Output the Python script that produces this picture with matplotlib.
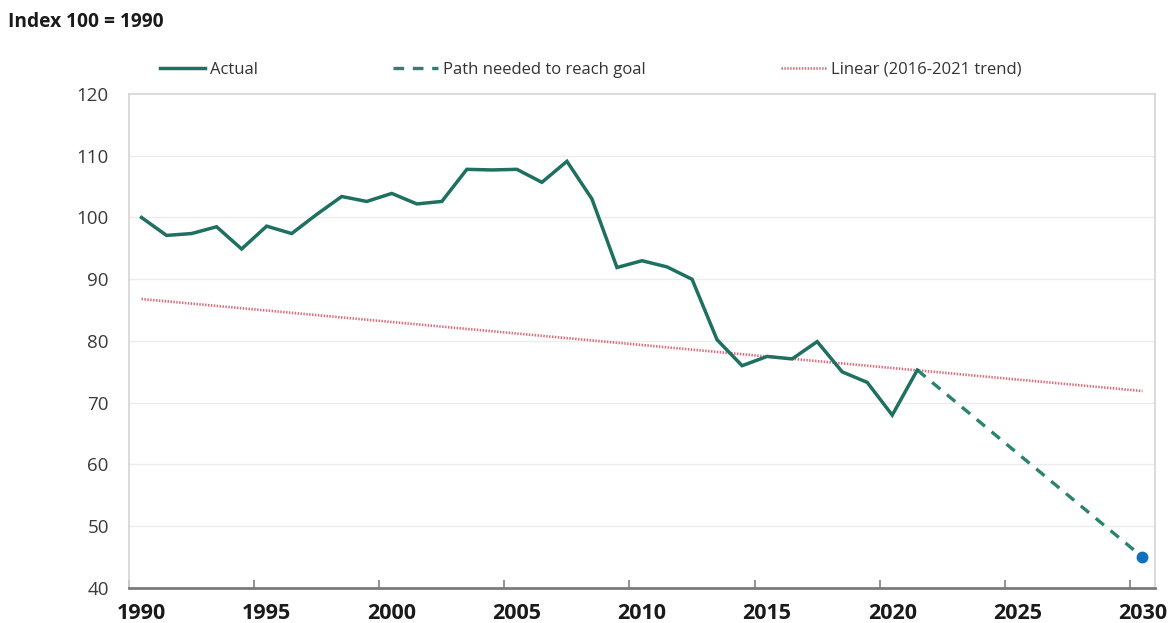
import matplotlib
matplotlib.use("Agg")
import matplotlib.pyplot as plt
import numpy as np

# ---- data ----
years = list(range(1990, 2022))
actual = [100.0, 97.1, 97.4, 98.5, 94.9, 98.6, 97.4, 100.5, 103.4, 102.6,
          103.9, 102.2, 102.6, 107.8, 107.7, 107.8, 105.7, 109.1, 103.0, 91.9,
          93.0, 92.0, 90.0, 80.2, 76.0, 77.5, 77.1, 79.9, 75.0, 73.3,
          68.0, 75.3]
path_years = [2021, 2030]
path_values = [75.3, 45.0]
trend_years = [1990, 2030]
trend_values = [86.8, 71.9]
goal_year = [2030]
goal_value = [45.0]
xtick_labels = ["1990", "1995", "2000", "2005", "2010", "2015", "2020", "2025", "2030"]
yticks = [40, 50, 60, 70, 80, 90, 100, 110, 120]

plt.rcParams['font.family'] = ['Open Sans', 'DejaVu Sans']

W, H = 1171, 623
fig = plt.figure(figsize=(W / 100, H / 100), dpi=100)
ax = fig.add_axes([129 / W, 1 - 588 / H, (1155 - 129) / W, (588 - 94) / H])

teal = '#1e7060'
teal2 = '#2a8270'
red = '#e06a78'
blue = '#0f6fc2'

ax.plot(years, actual, color=teal, lw=2.5, solid_joinstyle='miter', label='Actual', zorder=4)
ax.plot(path_years, path_values, color=teal2, lw=2.4, dashes=(3.2, 2.6), label='Path needed to reach goal', zorder=3)
ax.plot(trend_years, trend_values, color=red, lw=1.9, dashes=(0.55, 0.55), label='Linear (2016-2021 trend)', zorder=2)
ax.plot(goal_year, goal_value, 'o', color=blue, ms=7.5, zorder=5)

ax.set_xlim(1989.5, 2030.5)
ax.set_ylim(40, 120)

# category boundaries as tick marks, labels at category centres
ax.set_xticks([1989.5 + 5 * k for k in range(9)])
ax.set_xticklabels([])
ax.set_xticks([int(s) for s in xtick_labels], minor=True)
ax.set_xticklabels(xtick_labels, minor=True, fontsize=15.5, fontweight='bold', color='#1a1a1a')
ax.tick_params(axis='x', which='major', direction='in', length=6, width=1.2, color='#808080')
ax.tick_params(axis='x', which='minor', length=0, pad=10.5)

ax.set_yticks(yticks)
ax.set_yticklabels([str(v) for v in yticks], fontsize=13.5, color='#3a3a3a')
ax.tick_params(axis='y', length=0, pad=14.5)

for v in yticks[1:-1]:
    ax.axhline(v, color='#ececec', lw=1.0, zorder=0)

for s in ['left', 'right', 'top']:
    ax.spines[s].set_color('#d4d4d4')
    ax.spines[s].set_linewidth(1.2)
ax.spines['bottom'].set_color('#7a7a7a')
ax.spines['bottom'].set_linewidth(2.0)

fig.text(8 / W, 1 - 22 / H, 'Index 100 = 1990', fontsize=13.8, fontweight='bold',
         color='#1a1a1a', va='center', ha='left')

leg = fig.legend(*ax.get_legend_handles_labels(), loc='center left',
                 bbox_to_anchor=(160 / W, 1 - 69.5 / H), ncol=3, frameon=False,
                 fontsize=12, handlelength=2.7, handletextpad=0.3,
                 columnspacing=8.1, borderpad=0, borderaxespad=0, labelcolor='#333333')

fig.savefig('out.png', dpi=100)
